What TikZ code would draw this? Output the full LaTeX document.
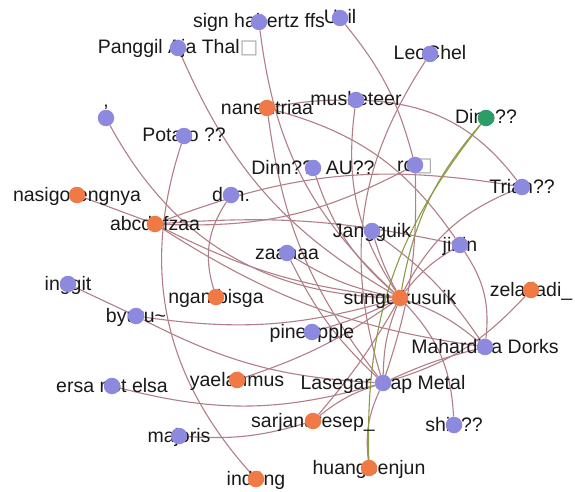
\documentclass[tikz,border=0pt]{standalone}
\usepackage{fontspec}
\setmainfont{Liberation Sans}
\newfontfamily\boxfont{DejaVu Sans}
\definecolor{dotblue}{HTML}{8C89DE}
\definecolor{dotorange}{HTML}{F07A45}
\definecolor{dotgreen}{HTML}{2A9D68}
\definecolor{edgerose}{HTML}{B27E88}
\definecolor{edgeolive}{HTML}{8E9A48}
\pgfdeclarelayer{edges}
\pgfdeclarelayer{dots}
\pgfsetlayers{edges,main,dots}
\newcommand{\nobox}{\textcolor{black!35}{\boxfont □}}
% one vertex: name, x, y, colour, text
\newcommand{\vtx}[5]{%
  \node[lbl] (#1) at (#2,#3) {#5};
  \begin{pgfonlayer}{dots}\node[dot, fill=#4] (#1-d) at (#1.center) {};\end{pgfonlayer}}

\begin{document}
\begin{tikzpicture}[x=1pt, y=-1pt,
    lbl/.style={inner sep=0pt, text=black!90, font=\fontsize{19.5}{20}\selectfont, text height=14pt, text depth=2pt},
    dot/.style={circle, draw=none, inner sep=0pt, minimum size=16.5pt},
    link/.style={draw=edgerose, line width=1.1pt},
    olink/.style={draw=edgeolive, line width=1.1pt}]
	%%%%% START %%%%%
	\useasboundingbox (0,0) rectangle (575,492);

	\vtx{sign}{259}{22}{dotblue}{sign hahertz ffs}
	\vtx{ucil}{340}{18}{dotblue}{Ucil}
	\vtx{panggil}{178}{48}{dotblue}{Panggil Aja Thal\nobox}
	\vtx{leochel}{430}{54}{dotblue}{LeoChel}
	\vtx{nanen}{267}{108}{dotorange}{nanentriaa}
	\vtx{musket}{356}{100}{dotblue}{musketeer}
	\vtx{tick}{106}{118}{dotblue}{\raisebox{5pt}{'}}
	\vtx{potato}{184}{136}{dotblue}{Potato ??}
	\vtx{dinnau}{313}{168}{dotblue}{Dinn??! AU??}
	\vtx{ro}{415}{165}{dotblue}{ro\nobox}
	\vtx{dino}{486}{118}{dotgreen}{Dino??}
	\vtx{trian}{522}{187}{dotblue}{Trian??}
	\vtx{nasigo}{77}{195}{dotorange}{nasigorengnya}
	\vtx{abcdef}{155}{224}{dotorange}{abcdefzaa}
	\vtx{don}{231}{195}{dotblue}{don.}
	\vtx{jang}{372}{231}{dotblue}{Jangguik}
	\vtx{jirlin}{460}{245}{dotblue}{jirlin}
	\vtx{zaanaa}{287}{253}{dotblue}{zaanaa}
	\vtx{inggit}{68}{284}{dotblue}{inggit}
	\vtx{ngamb}{216}{297}{dotorange}{ngambisga}
	\vtx{sungui}{400}{298}{dotorange}{sunguikusuik}
	\vtx{zelaf}{531}{290}{dotorange}{zelafiadi\_}
	\vtx{byuru}{136}{316}{dotblue}{byuru\textasciitilde}
	\vtx{pine}{312}{332}{dotblue}{pineapple}
	\vtx{mahard}{485}{347}{dotblue}{Mahardika Dorks}
	\vtx{ersa}{112}{386}{dotblue}{ersa not elsa}
	\vtx{yaelah}{237}{380}{dotorange}{yaelahmus}
	\vtx{lasegar}{383}{383}{dotblue}{Lasegar Cap Metal}
	\vtx{sarjan}{313}{421}{dotorange}{sarjanaresep\_}
	\vtx{shin}{454}{425}{dotblue}{shin??}
	\vtx{majoris}{179}{436}{dotblue}{majoris}
	\vtx{indung}{256}{479}{dotorange}{indüng}
	\vtx{huang}{369}{468}{dotorange}{huangbenjun}

	\begin{pgfonlayer}{edges}
	\fill[white] (0,0) rectangle (575,492);
	\draw[link] (sign-d) to[bend right=20] (sungui-d);
	\draw[link] (ucil-d) to[bend left=12] (ro-d);
	\draw[link] (panggil-d) to[bend right=18] (sungui-d);
	\draw[link] (tick-d) to[bend right=30] (sungui-d);
	\draw[link] (potato-d) to[bend right=30] (indung-d);
	\draw[link] (nasigo-d) -- (abcdef-d);
	\draw[link] (abcdef-d) to[bend left=15] (trian-d);
	\draw[link] (abcdef-d) to[bend left=8] (jirlin-d);
	\draw[link] (abcdef-d) to[bend right=10] (sungui-d);
	\draw[link] (abcdef-d) to[bend right=12] (mahard-d);
	\draw[link] (ro-d) to[bend left=15] (abcdef-d);
	\draw[link] (don-d) to[bend right=25] (ngamb-d);
	\draw[link] (inggit-d) -- (byuru-d);
	\draw[link] (byuru-d) to[bend right=12] (sungui-d);
	\draw[link] (byuru-d) to[bend right=12] (lasegar-d);
	\draw[link] (ersa-d) to[bend right=15] (lasegar-d);
	\draw[link] (yaelah-d) to[bend right=8] (sungui-d);
	\draw[link] (majoris-d) to[bend right=10] (sarjan-d);
	\draw[link] (sarjan-d) to[bend right=5] (sungui-d);
	\draw[link] (sarjan-d) to[bend left=10] (lasegar-d);
	\draw[link] (huang-d) to[bend left=15] (lasegar-d);
	\draw[link] (trian-d) to[bend right=20] (sungui-d);
	\draw[link] (musket-d) to[bend left=25] (trian-d);
	\draw[link] (musket-d) to[bend right=5] (nanen-d);
	\draw[link] (musket-d) to[bend right=20] (sungui-d);
	\draw[link] (leochel-d) to[bend right=25] (lasegar-d);
	\draw[link] (nanen-d) to[bend left=20] (jirlin-d);
	\draw[link] (nanen-d) to[bend right=15] (lasegar-d);
	\draw[link] (dinnau-d) to[bend right=15] (sungui-d);
	\draw[link] (ro-d) to[bend left=10] (lasegar-d);
	\draw[link] (shin-d) to[bend right=20] (sungui-d);
	\draw[link] (jang-d) to[bend right=5] (sungui-d);
	\draw[link] (jang-d) to[bend left=10] (mahard-d);
	\draw[link] (jirlin-d) to[bend right=10] (sungui-d);
	\draw[link] (jirlin-d) to[bend left=20] (mahard-d);
	\draw[link] (pine-d) to[bend right=5] (sungui-d);
	\draw[link] (zaanaa-d) to[bend right=10] (sungui-d);
	\draw[link] (zaanaa-d) to[bend right=10] (lasegar-d);
	\draw[link] (zelaf-d) to[bend left=15] (lasegar-d);
	\draw[link] (sungui-d) to[bend left=10] (mahard-d);
	\draw[link] (sungui-d) to[bend right=10] (lasegar-d);
	\draw[link] (lasegar-d) to[bend left=5] (mahard-d);
	\draw[olink] (sungui-d) to[bend left=15] (dino-d);
	\draw[olink] (huang-d) to[bend left=20] (dino-d);
	\end{pgfonlayer}
	%%%%% END %%%%%
\end{tikzpicture}
\end{document}
